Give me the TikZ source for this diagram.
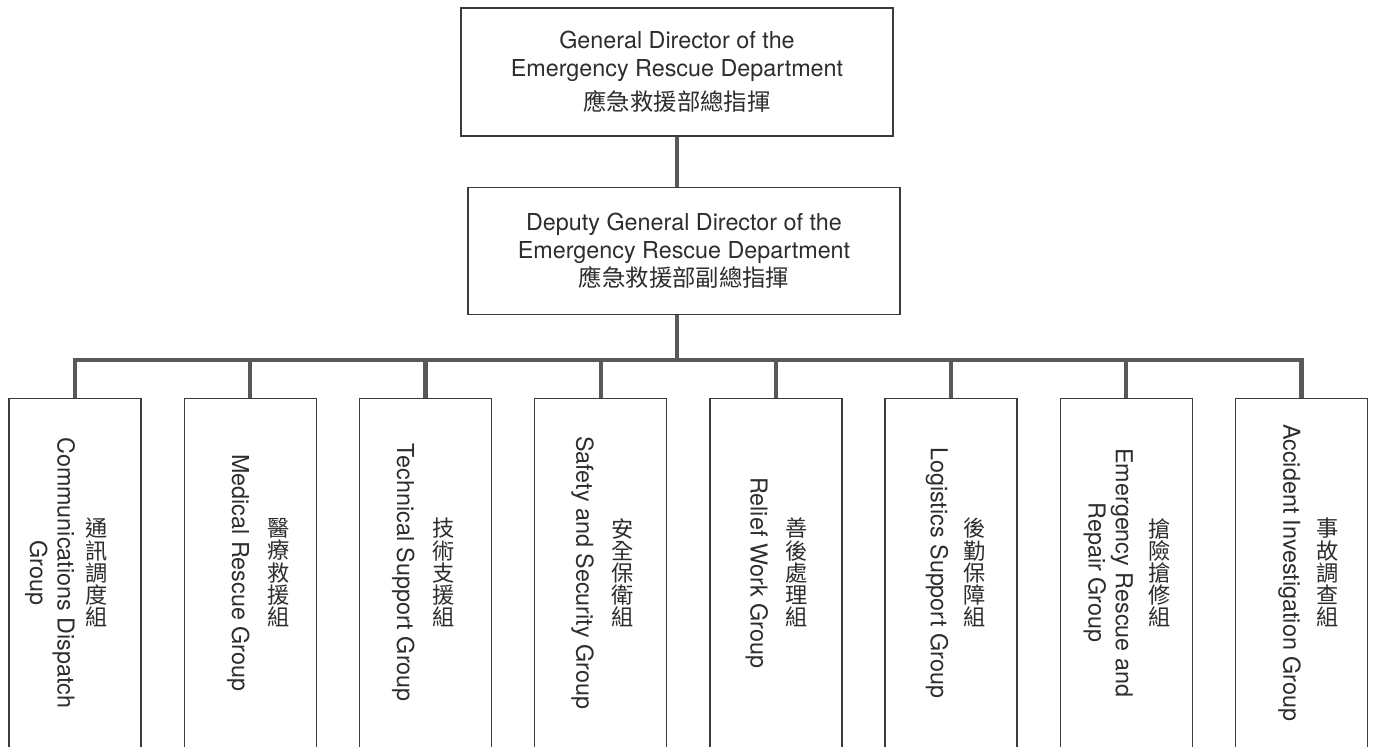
\documentclass[tikz,border=0pt]{standalone}
\usepackage{fontspec}
\setmainfont{TeX Gyre Heros}
\newfontfamily\cjk{Noto Sans CJK TC}
\usetikzlibrary{positioning}
\definecolor{boxline}{HTML}{3C3A3A}
\definecolor{linkline}{HTML}{595959}
\definecolor{txt}{HTML}{2E2C2C}

\begin{document}
\begin{tikzpicture}[
  head/.style={rectangle, draw=boxline, line width=1pt, minimum width=10.8cm,
    minimum height=3.2cm, align=center, text=txt, inner sep=0pt,
    font=\fontsize{16.6}{20}\selectfont},
  grp/.style={rectangle, draw=boxline, line width=1pt, minimum width=3.3cm,
    minimum height=9.1cm, anchor=north, inner sep=0pt},
  en/.style={rotate=-90, align=center, text=txt, inner sep=0pt,
    font=\fontsize{16.6}{19.5}\selectfont},
  zh/.style={align=center, text=txt, inner sep=0pt,
    font=\cjk\fontsize{15.8}{15.8}\selectfont},
  link/.style={draw=linkline, line width=3pt}]
  \path[use as bounding box] (0,0) rectangle (34.375,-18.675);
  \clip (0,0) rectangle (34.375,-18.675);

  \node[head] (chief) at (16.925,-1.8)
  { General Director of the\\ Emergency Rescue Department\\[4pt]
    {\cjk 應急救援部總指揮}};
  \node[head, minimum height=3.175cm, below=1.25cm of chief, xshift=0.175cm] (deputy)
  { Deputy General Director of the\\ Emergency Rescue Department\\
    {\cjk 應急救援部副總指揮}};

  % the eight groups
  \node[grp] (g1) at (1.875,-9.95) {};
  \node[grp, right=1.045cm of g1] (g2) {};
  \node[grp, right=1.045cm of g2] (g3) {};
  \node[grp, right=1.045cm of g3] (g4) {};
  \node[grp, right=1.045cm of g4] (g5) {};
  \node[grp, right=1.045cm of g5] (g6) {};
  \node[grp, right=1.045cm of g6] (g7) {};
  \node[grp, right=1.045cm of g7] (g8) {};

  \node[en] (e1) at ([xshift=-0.625cm, yshift=0.2cm]g1.center) {Communications Dispatch\\ Group};
  \node[zh] (z1) at ([xshift=0.55cm, yshift=0.2cm]g1.center) {通\\訊\\調\\度\\組};
  \node[en] (e2) at ([xshift=-0.3cm, yshift=0.2cm]g2.center) {Medical Rescue Group};
  \node[zh] (z2) at ([xshift=0.7cm, yshift=0.2cm]g2.center) {醫\\療\\救\\援\\組};
  \node[en] (e3) at ([xshift=-0.55cm, yshift=0.2cm]g3.center) {Technical Support Group};
  \node[zh] (z3) at ([xshift=0.45cm, yshift=0.2cm]g3.center) {技\\術\\支\\援\\組};
  \node[en] (e4) at ([xshift=-0.45cm, yshift=0.2cm]g4.center) {Safety and Security Group};
  \node[zh] (z4) at ([xshift=0.55cm, yshift=0.2cm]g4.center) {安\\全\\保\\衛\\組};
  \node[en] (e5) at ([xshift=-0.475cm, yshift=0.2cm]g5.center) {Relief Work Group};
  \node[zh] (z5) at ([xshift=0.525cm, yshift=0.2cm]g5.center) {善\\後\\處\\理\\組};
  \node[en] (e6) at ([xshift=-0.35cm, yshift=0.2cm]g6.center) {Logistics Support Group};
  \node[zh] (z6) at ([xshift=0.6cm, yshift=0.2cm]g6.center) {後\\勤\\保\\障\\組};
  \node[en] (e7) at ([xshift=-0.45cm, yshift=0.2cm]g7.center) {Emergency Rescue and\\ Repair Group};
  \node[zh] (z7) at ([xshift=0.825cm, yshift=0.2cm]g7.center) {搶\\險\\搶\\修\\組};
  \node[en] (e8) at ([xshift=-0.3cm, yshift=0.2cm]g8.center) {Accident Investigation Group};
  \node[zh] (z8) at ([xshift=0.65cm, yshift=0.2cm]g8.center) {事\\故\\調\\查\\組};

  % connectors
  \coordinate (bus) at (0,-9.0);
  \draw[link] (chief.south) -- (chief.south |- deputy.north);
  \draw[link] (chief.south |- deputy.south) -- (chief.south |- bus);
  \draw[link] (g1.north) -- (g1.north |- bus) -- (g8.north |- bus) -- (g8.north);
  \draw[link] (g2.north) -- (g2.north |- bus);
  \draw[link] (g3.north) -- (g3.north |- bus);
  \draw[link] (g4.north) -- (g4.north |- bus);
  \draw[link] (g5.north) -- (g5.north |- bus);
  \draw[link] (g6.north) -- (g6.north |- bus);
  \draw[link] (g7.north) -- (g7.north |- bus);
\end{tikzpicture}
\end{document}
